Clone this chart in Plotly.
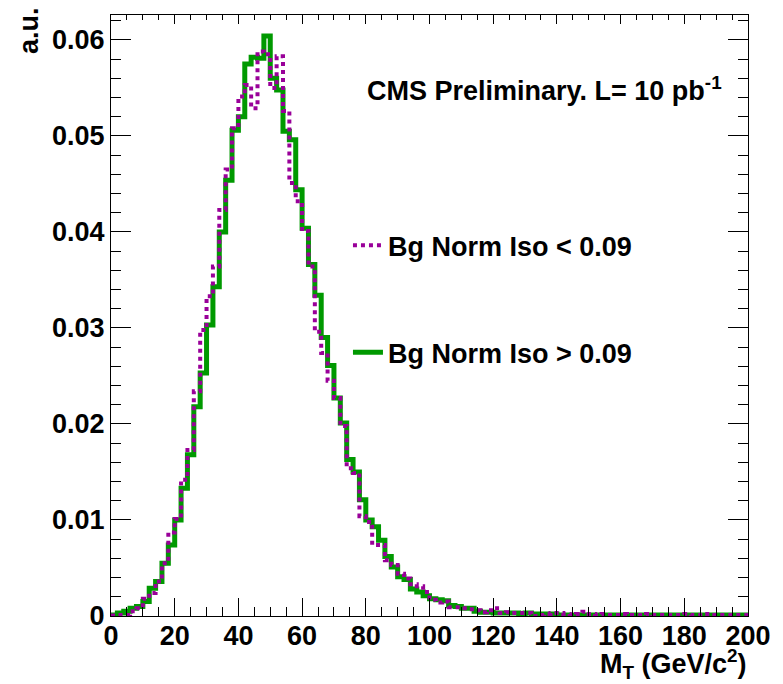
import numpy as np
import plotly.graph_objects as go

# Histogram binning: 100 bins of 2 GeV from 0 to 200
bin_edges = list(range(0, 202, 2))

# Bg Norm Iso < 0.09 (purple, dotted)
iso_low = [
    0.00005, 0.0001, 0.0001, 0.0005, 0.0008, 0.0018, 0.0024, 0.0036, 0.0055, 0.0087,
    0.0101, 0.0142, 0.0173, 0.0234, 0.0298, 0.0333, 0.0364, 0.0423, 0.0465, 0.0508,
    0.0541, 0.0553, 0.0529, 0.0588, 0.0585, 0.0550, 0.0583, 0.0526, 0.0451, 0.0432,
    0.0401, 0.0364, 0.0296, 0.0274, 0.0245, 0.0227, 0.0198, 0.0154, 0.0149, 0.0104,
    0.0098, 0.0074, 0.0074, 0.0058, 0.0053, 0.0044, 0.0039, 0.0033, 0.0031, 0.0025,
    0.0017, 0.0014, 0.0015, 0.0009, 0.0009, 0.0008, 0.0007, 0.0006, 0.0004, 0.0006,
    0.0008, 0.0003, 0.0004, 0.0003, 0.0003, 0.0003, 0.0000, 0.0001, 0.0002, 0.0003,
    0.0003, 0.0002, 0.0001, 0.0002, 0.00045, 0.0002, 0.0001, 0.0002, 0.0001, 0.0001,
    0.0002, 0.0001, 0.0001, 0.0001, 0.0002, 0.0001, 0.0001, 0.0001, 0.0001, 0.0001,
    0.0002, 0.0001, 0.0001, 0.0002, 0.0001, 0.0001, 0.0001, 0.0001, 0.0001, 0.0001,
]

# Bg Norm Iso > 0.09 (green, solid)
iso_high = [
    0.0001, 0.0003, 0.0005, 0.0008, 0.0010, 0.0015, 0.0029, 0.0036, 0.0055, 0.0074,
    0.0100, 0.0133, 0.0168, 0.0218, 0.0253, 0.0303, 0.0343, 0.0400, 0.0454, 0.0506,
    0.0520, 0.0575, 0.0582, 0.0581, 0.0604, 0.0560, 0.0548, 0.0505, 0.0496, 0.0444,
    0.0404, 0.0366, 0.0334, 0.0290, 0.0261, 0.0227, 0.0201, 0.0163, 0.0150, 0.0121,
    0.0100, 0.0093, 0.0079, 0.0062, 0.0051, 0.0041, 0.0038, 0.0028, 0.0025, 0.0021,
    0.0018, 0.0017, 0.0016, 0.0011, 0.0010, 0.0008, 0.0008, 0.0005, 0.0004, 0.0004,
    0.0003, 0.0003, 0.0003, 0.0003, 0.0002, 0.0003, 0.0002, 0.0002, 0.0002, 0.0002,
    0.0001, 0.0001, 0.0001, 0.0001, 0.0001, 0.0001, 0.0001, 0.0001, 0.0001, 0.0001,
    0.0001, 0.0001, 0.0001, 0.0001, 0.0001, 0.0001, 0.0001, 0.0001, 0.0001, 0.0001,
    0.0001, 0.0001, 0.0001, 0.0001, 0.0001, 0.0001, 0.0001, 0.0001, 0.0001, 0.0001,
]

y_ticks = [0, 0.01, 0.02, 0.03, 0.04, 0.05, 0.06]
y_labels = ["0", "0.01", "0.02", "0.03", "0.04", "0.05", "0.06"]
x_ticks = [0, 20, 40, 60, 80, 100, 120, 140, 160, 180, 200]

GREEN = "rgb(0,153,0)"
PURPLE = "rgb(153,0,153)"
FONT = dict(family="Liberation Sans, Arial, Helvetica, sans-serif", size=27, color="black", weight="bold")


def step_xy(values):
    return bin_edges, list(values) + [values[-1]]


fig = go.Figure()

gx, gy = step_xy(iso_high)
fig.add_trace(go.Scatter(
    x=gx, y=gy, mode="lines", line=dict(shape="hv", color=GREEN, width=5),
    name="Bg Norm Iso > 0.09", legendrank=2, legendgroup="g",
))
px_, py_ = step_xy(iso_low)
fig.add_trace(go.Scatter(
    x=px_, y=py_, mode="lines", line=dict(shape="hv", color=PURPLE, width=4, dash="dot"),
    name="Bg Norm Iso < 0.09", legendrank=1, legendgroup="p",
))
# empty trace to attach the mirrored top/right axes
fig.add_trace(go.Scatter(x=[], y=[], xaxis="x2", yaxis="y2", showlegend=False, hoverinfo="skip"))

fig.update_layout(
    width=783, height=684,
    margin=dict(l=111, r=32, t=15, b=68),
    paper_bgcolor="white", plot_bgcolor="white",
    font=FONT,
    showlegend=True,
    legend=dict(
        x=0.372, y=0.657, xanchor="left", yanchor="top",
        bgcolor="rgba(0,0,0,0)", borderwidth=0,
        font=FONT, tracegroupgap=69, itemwidth=30,
    ),
    xaxis=dict(
        range=[0, 200], tickvals=x_ticks, ticks="inside", ticklen=18, tickwidth=1,
        tickcolor="black", showline=True, linecolor="black", linewidth=1,
        showgrid=False, zeroline=False, tickfont=FONT, ticklabelstandoff=-4,
        minor=dict(dtick=5, ticks="inside", ticklen=9, tickcolor="black", showgrid=False),
    ),
    yaxis=dict(
        range=[0, 0.0626], tickvals=y_ticks, ticktext=y_labels,
        ticks="inside", ticklen=20, tickwidth=1,
        tickcolor="black", showline=True, linecolor="black", linewidth=1,
        showgrid=False, zeroline=False, tickfont=FONT,
        minor=dict(dtick=0.002, ticks="inside", ticklen=10, tickcolor="black", showgrid=False),
    ),
    xaxis2=dict(
        overlaying="x", side="top", anchor="y2", range=[0, 200], tickvals=x_ticks,
        ticks="inside", ticklen=9, tickcolor="black", showticklabels=False,
        showline=True, linecolor="black", linewidth=1, showgrid=False, zeroline=False,
        minor=dict(dtick=5, ticks="inside", ticklen=5, tickcolor="black", showgrid=False),
    ),
    yaxis2=dict(
        overlaying="y", side="right", anchor="x2", range=[0, 0.0626], tickvals=y_ticks,
        ticks="inside", ticklen=20, tickcolor="black", showticklabels=False,
        showline=True, linecolor="black", linewidth=1, showgrid=False, zeroline=False,
        minor=dict(dtick=0.002, ticks="inside", ticklen=10, tickcolor="black", showgrid=False),
    ),
    annotations=[
        dict(text="CMS Preliminary. L= 10 pb<sup>-1</sup>", xref="paper", yref="paper",
             x=0.3985, y=0.877, xanchor="left", yanchor="middle", showarrow=False, font=FONT),
        dict(text="a.u.", xref="paper", yref="paper", x=-0.1297, y=1.0166,
             xanchor="center", yanchor="top", textangle=-90, showarrow=False, font=FONT),
        dict(text="M<sub>T</sub> (GeV/c<sup>2</sup>)", xref="paper", yref="paper",
             x=1.0016, y=-0.0795, xanchor="right", yanchor="middle", showarrow=False, font=FONT),
    ],
)

fig.write_html("out.html")
